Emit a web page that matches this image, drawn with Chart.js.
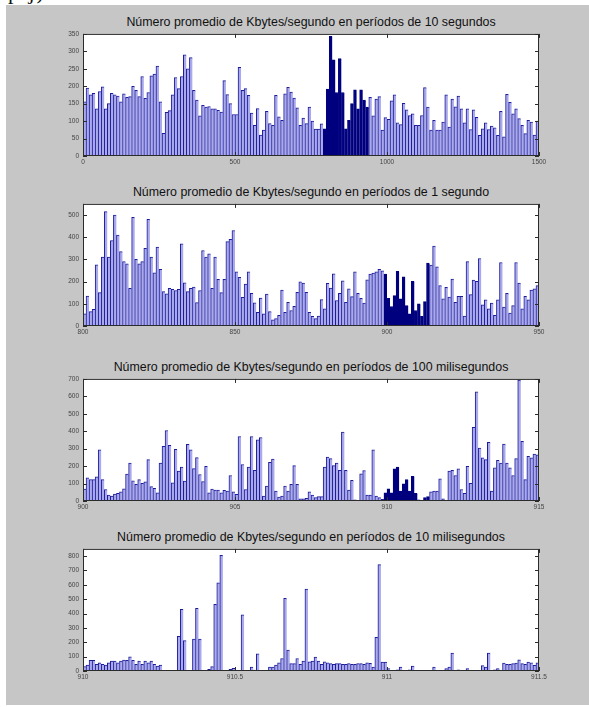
<!DOCTYPE html>
<html lang="es">
<head>
<meta charset="UTF-8">
<title>Kbytes/segundo</title>
<script src="https://cdn.jsdelivr.net/npm/chart.js"></script>
<style>
    body { margin: 0; background: #fff; width: 589px; height: 707px; position: relative; overflow: hidden;
           font-family: "Liberation Sans", Arial, sans-serif; }
    .recorte { position: absolute; left: 8px; top: -21px; font: 22px "Liberation Serif", serif; letter-spacing: 2px; color: #111; }
    .fondo { position: absolute; left: 6px; top: 5px; width: 583px; height: 700px; background: #c6c6c6; }
    .titulo { position: absolute; left: 83px; width: 456px; text-align: center; font-size: 12.4px; line-height: 14px;
              color: #111; white-space: nowrap; }
    canvas { position: absolute; left: 0; }
</style>
</head>
<body>
<div class="recorte">p.j)</div>
<div class="fondo"></div>

<div class="titulo" style="top:15px">Número promedio de Kbytes/segundo en períodos de 10 segundos</div>
<canvas id="g1" width="589" height="146" style="top:26px"></canvas>

<div class="titulo" style="top:185px">Número promedio de Kbytes/segundo en períodos de 1 segundo</div>
<canvas id="g2" width="589" height="146" style="top:196px"></canvas>

<div class="titulo" style="top:360px">Número promedio de Kbytes/segundo en períodos de 100 milisegundos</div>
<canvas id="g3" width="589" height="146" style="top:371px"></canvas>

<div class="titulo" style="top:530px">Número promedio de Kbytes/segundo en períodos de 10 milisegundos</div>
<canvas id="g4" width="589" height="146" style="top:541px"></canvas>

<script>
    // periodos de 10 s (eje 0 - 1500 s)
    var p1Valores = [
        155, 195, 175, 180, 135, 185, 198, 135, 150, 180,
        175, 172, 155, 178, 168, 170, 200, 188, 170, 228,
        165, 182, 230, 235, 258, 155, 65, 125, 130, 175,
        225, 193, 228, 290, 250, 282, 188, 160, 115, 145,
        140, 142, 135, 135, 131, 126, 216, 176, 150, 119,
        119, 254, 188, 193, 174, 123, 88, 136, 60, 74,
        128, 93, 88, 174, 112, 102, 178, 197, 183, 166,
        138, 88, 109, 93, 140, 100, 77, 77, 92,
        78, 192, 343, 276, 182, 279, 182, 78, 102, 150, 190, 135, 190, 160, 140,
        168, 115, 163, 170, 74, 110, 105, 158, 175, 95,
        90, 151, 132, 116, 121, 88, 88, 116, 196, 140,
        74, 102, 74, 74, 97, 175, 83, 163, 141, 172,
        135, 95, 135, 76, 132, 111, 59, 78, 95, 76,
        86, 81, 59, 128, 55, 177, 154, 121, 135, 107,
        88, 64, 102, 97, 60, 100
    ];
    // periodos de 1 s (eje 800 - 950 s)
    var p2Valores = [
        55, 135, 65, 75, 275, 150, 310, 515, 310, 385,
        500, 410, 335, 290, 280, 170, 490, 300, 280, 290,
        350, 480, 310, 240, 355, 255, 155, 145, 170, 165,
        160, 165, 370, 195, 155, 170, 175, 105, 160, 340,
        310, 325, 170, 310, 210, 150, 210, 380, 390, 430,
        244, 219, 129, 189, 244, 147, 104, 62, 126, 55,
        144, 65, 28, 33, 48, 162, 62, 107, 70, 89,
        152, 199, 193, 152, 62, 43, 33, 45, 119, 77,
        192, 171, 235, 115, 147, 204, 107, 167, 132, 244,
        147, 125, 103, 208, 234, 238, 244, 255, 248,
        234, 125, 88, 137, 246, 122, 222, 92, 55, 201, 70, 100, 43, 110, 283,
        274, 360, 266, 182, 122, 174, 130, 211, 107, 134,
        134, 45, 290, 141, 207, 201, 304, 95, 118, 77,
        103, 48, 118, 286, 85, 147, 58, 92, 286, 193,
        77, 134, 118, 162, 167, 182
    ];
    // periodos de 100 ms (eje 900 - 915 s)
    var p3Valores = [
        68, 133, 123, 123, 139, 294, 123, 66, 34, 28,
        40, 44, 53, 70, 154, 218, 116, 95, 123, 101,
        110, 237, 82, 72, 47, 218, 313, 404, 319, 104,
        296, 171, 195, 114, 325, 294, 186, 249, 152, 112,
        199, 47, 68, 63, 63, 47, 61, 57, 146, 53, 38,
        370, 209, 66, 194, 370, 176, 351, 364, 28, 85,
        222, 241, 57, 23, 28, 85, 57, 95, 203, 95,
        13, 13, 15, 53, 34, 19,
        25, 25, 194, 252, 243, 203, 218, 176, 395, 176,
        63, 118, 6, 4, 156, 175, 34, 34, 294, 28, 19, 9,
        47, 70, 47, 184, 195, 57, 99, 123, 57, 142, 44, 6, 4, 19, 25,
        53, 57, 57, 127, 13, 0, 171, 176, 146, 184,
        66, 44, 199, 101, 423, 626, 304, 247, 237, 336,
        57, 190, 233, 218, 326, 218, 190, 146, 243, 693,
        342, 123, 256, 247, 269, 265
    ];
    // periodos de 10 ms (eje 910 - 911.5 s)
    var p4Valores = [
        30, 41, 74, 74, 46, 57, 46, 41, 57, 69,
        69, 57, 69, 76, 74, 99, 74, 46, 69, 46,
        69, 57, 69, 46, 34, 41, 5, 0, 5, 0, 5,
        241, 430, 211, 0, 5, 223, 437, 223, 0, 5, 11, 30, 464, 614, 805,
        5, 5, 11, 18, 0, 0, 391, 5, 0, 28,
        7, 120, 5, 0, 0, 28, 28, 41, 57, 87,
        506, 145, 51, 51, 87, 46, 69, 570, 64, 69,
        97, 69, 46, 64, 57, 51, 46, 51, 51, 46,
        46, 51, 46, 46, 51, 51, 46, 57, 53, 28,
        234, 740,
        62, 62, 16, 0, 5, 9, 28, 5, 0, 9,
        34, 0, 0, 0, 0, 0, 0, 28, 0, 0,
        0, 16, 28, 124, 0, 9, 0, 0, 16, 0,
        0, 0, 0, 37, 28, 124, 0, 9, 16, 0,
        55, 46, 46, 51, 55, 78, 51, 46, 62, 57,
        39, 57
    ];

    // intervalo resaltado (indices de barra) que se amplia en el grafico siguiente
    var p1Marcadas = [79, 93];
    var p2Marcadas = [99, 113];
    var p3Marcadas = [99, 113];
    var p4Marcadas = null;

    // ejes: [inicio, fin, paso de marcas], ancho del periodo
    var p1Eje = [0, 1500, 500], p1Periodo = 10;
    var p2Eje = [800, 950, 50], p2Periodo = 1;
    var p3Eje = [900, 915, 5], p3Periodo = 0.1;
    var p4Eje = [910, 911.5, 0.5], p4Periodo = 0.01;

    var p1Y = [350, 50];
    var p2Y = [550, 100];
    var p3Y = [700, 100];
    var p4Y = [850, 100];

    const AZUL_CLARO = '#a9a9ec';
    const AZUL_BORDE = '#1c1c98';
    const AZUL_OSCURO = '#00007f';

    // caja y marcas hacia dentro, estilo matlab
    const marco = {
        id: 'marco',
        beforeDatasetsDraw(chart) {
            const a = chart.chartArea;
            chart.ctx.save();
            chart.ctx.fillStyle = '#fff';
            chart.ctx.fillRect(a.left, a.top, a.right - a.left, a.bottom - a.top);
            chart.ctx.restore();
        },
        afterDraw(chart) {
            const { ctx, chartArea: a, scales: { x, y } } = chart;
            ctx.save();
            ctx.strokeStyle = '#2b2b2b';
            ctx.lineWidth = 1;
            ctx.beginPath();
            y.ticks.forEach(t => {
                const py = Math.round(y.getPixelForValue(t.value)) + 0.5;
                ctx.moveTo(a.left, py); ctx.lineTo(a.left + 4, py);
                ctx.moveTo(a.right, py); ctx.lineTo(a.right - 4, py);
            });
            x.ticks.forEach(t => {
                const px = Math.round(x.getPixelForValue(t.value)) + 0.5;
                ctx.moveTo(px, a.bottom); ctx.lineTo(px, a.bottom - 4);
                ctx.moveTo(px, a.top); ctx.lineTo(px, a.top + 4);
            });
            ctx.stroke();
            ctx.strokeRect(a.left + 0.5, a.top + 0.5, a.right - a.left - 1, a.bottom - a.top - 1);
            ctx.restore();
        }
    };

    function crearGrafico(id, valores, marcadas, eje, periodo, ejeY) {
        const puntos = valores.map((v, i) => ({ x: eje[0] + (i + 0.5) * periodo, y: v }));
        const esMarcada = i => marcadas && i >= marcadas[0] && i <= marcadas[1];

        return new Chart(document.getElementById(id), {
            type: 'bar',
            data: {
                datasets: [{
                    data: puntos,
                    backgroundColor: c => esMarcada(c.dataIndex) ? AZUL_OSCURO : AZUL_CLARO,
                    borderColor: c => esMarcada(c.dataIndex) ? AZUL_OSCURO : AZUL_BORDE,
                    borderWidth: { top: 1, left: 1, right: 0, bottom: 0 },
                    borderSkipped: false,
                    barPercentage: 1,
                    categoryPercentage: 1
                }]
            },
            options: {
                responsive: false,
                animation: false,
                layout: { padding: { top: 6, left: 63, right: 50, bottom: 2 } },
                plugins: { legend: { display: false }, tooltip: { enabled: false } },
                scales: {
                    x: {
                        type: 'linear',
                        min: eje[0],
                        max: eje[1],
                        offset: false,
                        grid: { display: false, drawTicks: false },
                        border: { display: false },
                        ticks: {
                            stepSize: eje[2],
                            autoSkip: false,
                            maxRotation: 0,
                            padding: 2,
                            color: '#444',
                            font: { size: 6.5, family: 'Liberation Sans' },
                            callback: v => String(Math.round(v * 100) / 100)
                        },
                        afterFit: s => { s.height = 14; }
                    },
                    y: {
                        min: 0,
                        max: ejeY[0],
                        grid: { display: false, drawTicks: false },
                        border: { display: false },
                        ticks: {
                            stepSize: ejeY[1],
                            includeBounds: false,
                            padding: 4,
                            color: '#444',
                            font: { size: 6.5, family: 'Liberation Sans' }
                        },
                        afterFit: s => { s.width = 20; }
                    }
                }
            },
            plugins: [marco]
        });
    }

    crearGrafico('g1', p1Valores, p1Marcadas, p1Eje, p1Periodo, p1Y);
    crearGrafico('g2', p2Valores, p2Marcadas, p2Eje, p2Periodo, p2Y);
    crearGrafico('g3', p3Valores, p3Marcadas, p3Eje, p3Periodo, p3Y);
    crearGrafico('g4', p4Valores, p4Marcadas, p4Eje, p4Periodo, p4Y);
</script>
</body>
</html>
